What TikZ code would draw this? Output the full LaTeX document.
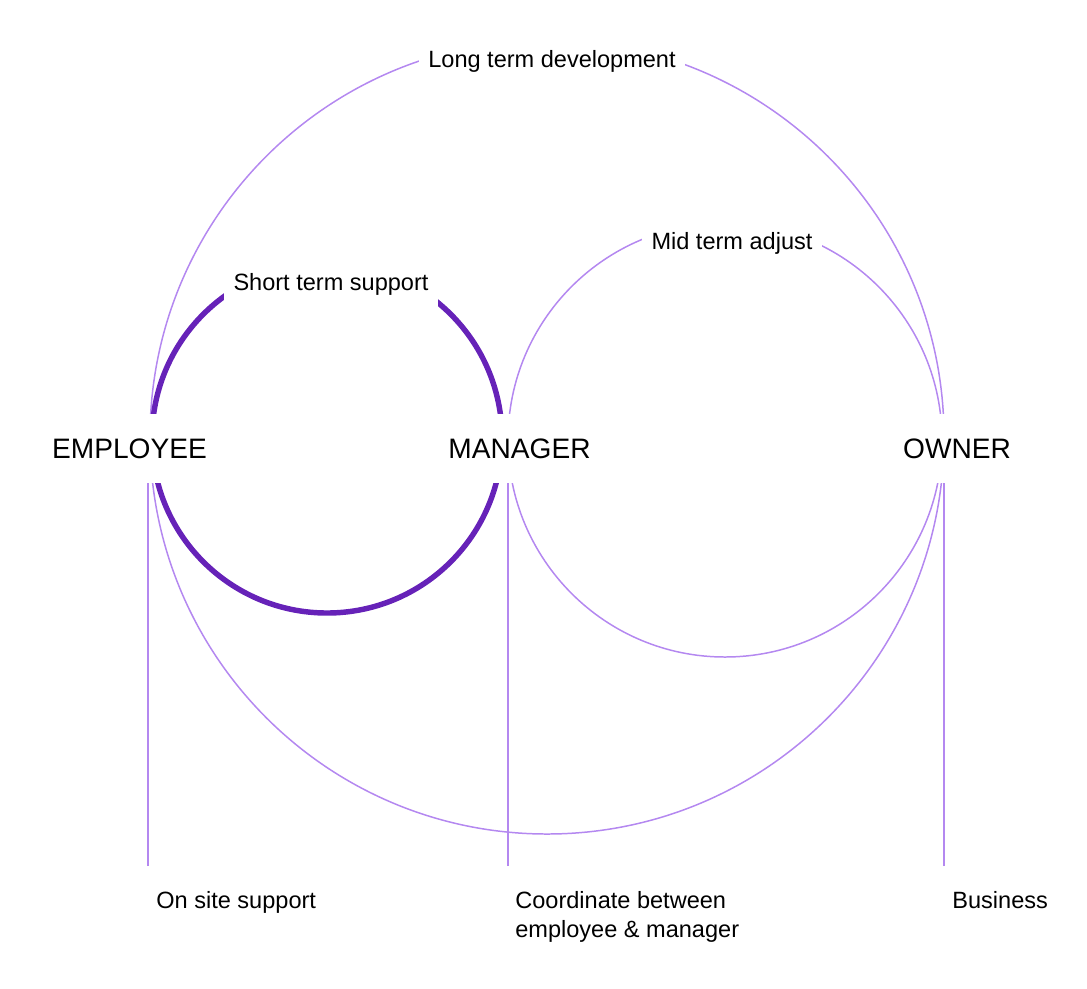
\documentclass[tikz,border=0pt]{standalone}
\usepackage{fontspec}
\setmainfont{Liberation Sans}
\usepackage{tikz}
\definecolor{lilac}{RGB}{180,136,240}
\definecolor{deepviolet}{RGB}{102,34,184}

\begin{document}
\begin{tikzpicture}[x=0.02cm,y=0.02cm,
		thinarc/.style={draw=lilac,line width=0.85pt},
		thickarc/.style={draw=deepviolet,line width=3.1pt},
		role/.style={fill=white,inner xsep=0.19cm,inner ysep=0pt,minimum height=1.38cm,text height=11.45pt,text depth=0pt,font=\fontsize{16}{19}\selectfont},
		horizon/.style={fill=white,inner xsep=0.19cm,inner ysep=0pt,minimum height=1.0cm,text height=9.6pt,text depth=0pt,font=\fontsize{13.4}{16.4}\selectfont},
		note/.style={anchor=base west,inner sep=0pt,align=left,font=\fontsize{13.4}{16.44}\selectfont}]
			\useasboundingbox (0,0) rectangle (1087,-988);
			\draw[thinarc] (547,-437) circle[radius=397];
			\draw[thinarc] (725,-440) circle[radius=217];
			\draw[thickarc] (327,-438) circle[radius=175];
			\node[horizon] (longterm) at (552,-58.7) {Long term development};
			\node[horizon] (midterm) at (732,-241) {Mid term adjust};
			\node[horizon] (shortterm) at (331,-282.5) {Short term support};
			\node[role] (employee) at (129.5,-448) {EMPLOYEE};
			\node[role] (manager) at (519.5,-448) {MANAGER};
			\node[role] (owner) at (957,-448) {OWNER};
			\coordinate (employeefoot) at (148,-866);
			\coordinate (managerfoot) at (508,-866);
			\coordinate (ownerfoot) at (944,-866);
			\draw[thinarc] (employeefoot) -- (employeefoot |- employee.south);
			\draw[thinarc] (managerfoot) -- (managerfoot |- manager.south);
			\draw[thinarc] (ownerfoot) -- (ownerfoot |- owner.south);
			\node[note] (onsite) at (156,-908) {On site support};
			\node[note] (coordinate) at (515,-937) {Coordinate between\\employee \& manager};
			\node[note] (business) at (952,-908) {Business};
		\end{tikzpicture}
\end{document}
